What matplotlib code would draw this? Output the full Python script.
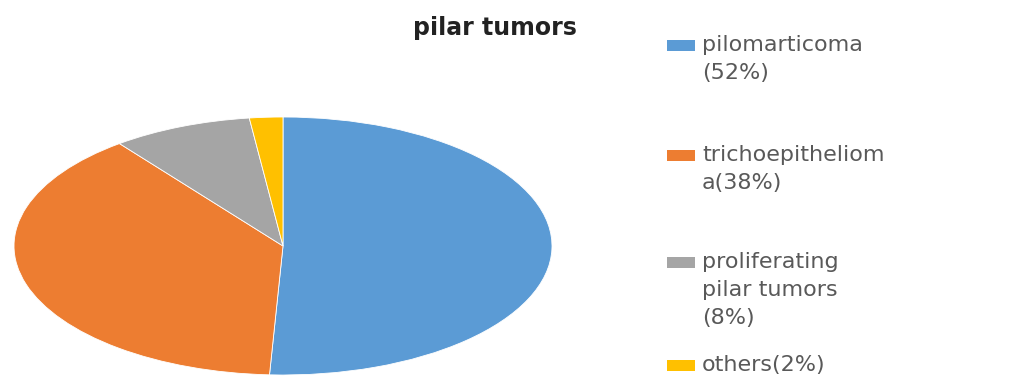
import matplotlib.pyplot as plt
from matplotlib.patches import Rectangle

# chart data (wedge sizes, labels as printed)
names = ['pilomarticoma', 'trichoepithelioma', 'proliferating pilar tumors', 'others']
values = [50.8, 38.8, 8.4, 2.0]
legend_lines = [['pilomarticoma', '(52%)'],
                ['trichoepitheliom', 'a(38%)'],
                ['proliferating', 'pilar tumors', '(8%)'],
                ['others(2%)']]
colors = ['#5B9BD5', '#ED7D31', '#A5A5A5', '#FFC000']

W, H = 1029, 378
fig = plt.figure(figsize=(W / 100, H / 100), dpi=100)

# stretched pie (ellipse)
left, right, top, bottom = 14, 552, 117, 375
ax = fig.add_axes([left / W, (H - bottom) / H, (right - left) / W, (bottom - top) / H])
ax.pie(values, colors=colors, startangle=90, counterclock=False, radius=1,
       wedgeprops=dict(edgecolor='white', linewidth=0.6))
ax.set_aspect('auto')
ax.set_xlim(-1, 1)
ax.set_ylim(-1, 1)
ax.axis('off')

fig.text(495 / W, 1 - 28 / H, 'pilar tumors', ha='center', va='center',
         fontsize=17, fontweight='bold', color='#222222')

# legend drawn by hand to follow the wrapped labels
entry_y = [45, 155, 262, 365]
line_step = 28
for lines, c, y0 in zip(legend_lines, colors, entry_y):
    fig.patches.append(Rectangle((667 / W, 1 - (y0 + 6) / H), 28 / W, 11 / H,
                                 transform=fig.transFigure, facecolor=c,
                                 edgecolor='none'))
    for k, ln in enumerate(lines):
        fig.text(702 / W, 1 - (y0 + k * line_step) / H, ln, ha='left', va='center',
                 fontsize=16, color='#595959')

fig.savefig('out.png', dpi=100)
